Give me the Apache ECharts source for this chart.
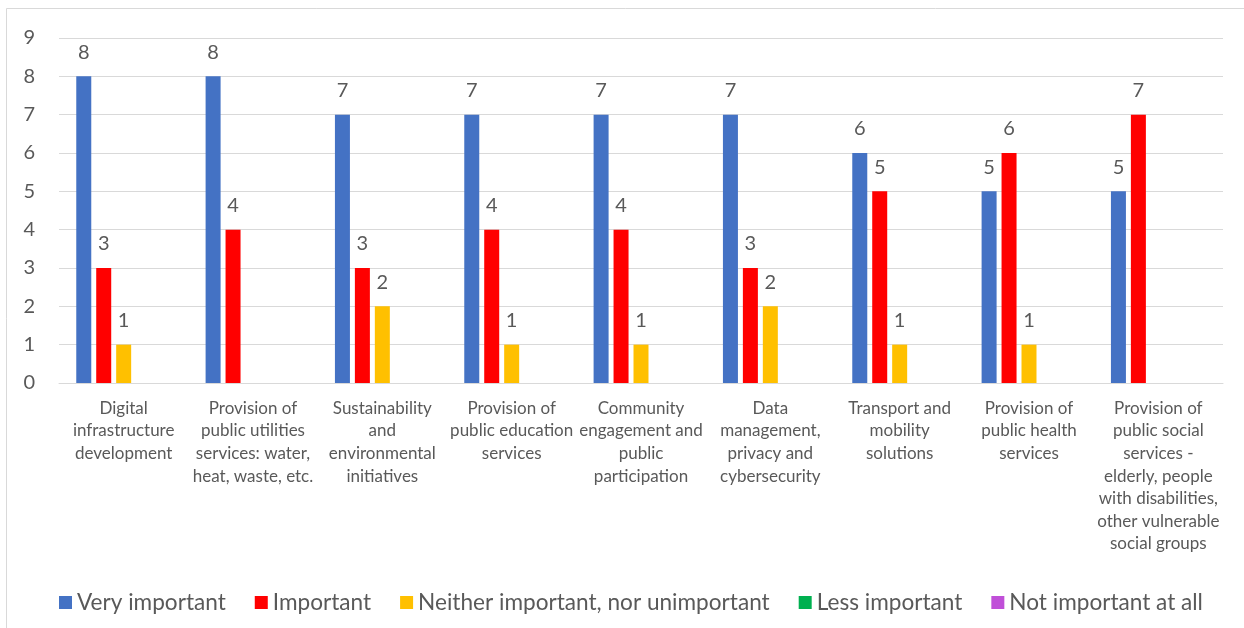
<!DOCTYPE html>
<html>
<head>
<meta charset="utf-8">
<script src="https://cdn.jsdelivr.net/npm/echarts@6/dist/echarts.min.js"></script>
<style>
  html, body { margin: 0; padding: 0; background: #ffffff; }
  #chart { width: 1244px; height: 628px; }
</style>
</head>
<body>
<div id="chart"></div>
<script>
// Survey categories (line breaks as shown under the axis)
const categories = [
  'Digital\ninfrastructure\ndevelopment',
  'Provision of\npublic utilities\nservices: water,\nheat, waste, etc.',
  'Sustainability\nand\nenvironmental\ninitiatives',
  'Provision of\npublic education\nservices',
  'Community\nengagement and\npublic\nparticipation',
  'Data\nmanagement,\nprivacy and\ncybersecurity',
  'Transport and\nmobility\nsolutions',
  'Provision of\npublic health\nservices',
  'Provision of\npublic social\nservices -\nelderly, people\nwith disabilities,\nother vulnerable\nsocial groups'
];

// Number of answers per importance level
const veryImportant   = [8, 8, 7, 7, 7, 7, 6, 5, 5];
const important       = [3, 4, 3, 4, 4, 3, 5, 6, 7];
const neither         = [1, 0, 2, 1, 1, 2, 1, 1, 0];
const lessImportant   = [0, 0, 0, 0, 0, 0, 0, 0, 0];
const notImportant    = [0, 0, 0, 0, 0, 0, 0, 0, 0];

const seriesNames = [
  'Very important',
  'Important',
  'Neither important, nor unimportant',
  'Less important',
  'Not important at all'
];
const seriesValues = [veryImportant, important, neither, lessImportant, notImportant];
const seriesColors = ['#4472C4', '#FF0000', '#FFC000', '#00B050', '#C04FD8'];

const yTicks = { min: 0, max: 9, interval: 1 };

const FONT = 'Lato, "Liberation Sans", sans-serif';
const TEXT = '#595959';
const GRID = '#D9D9D9';

const chart = echarts.init(document.getElementById('chart'), null, { renderer: 'canvas' });

chart.setOption({
  animation: false,
  backgroundColor: '#ffffff',
  textStyle: { fontFamily: FONT },
  graphic: [{
    type: 'rect',
    silent: true,
    shape: { x: 6.5, y: 8.5, width: 1400, height: 800 },
    style: { fill: 'none', stroke: GRID, lineWidth: 1 }
  }],
  grid: { left: 59, right: 21, top: 38, bottom: 245, containLabel: false },
  legend: {
    left: 54,
    top: 586,
    itemWidth: 13,
    itemHeight: 13,
    itemGap: 29,
    icon: 'rect',
    textStyle: { fontFamily: FONT, fontSize: 22.6, color: TEXT },
    data: seriesNames
  },
  xAxis: {
    type: 'category',
    data: categories,
    axisLine: { show: true, lineStyle: { color: GRID, width: 1 } },
    axisTick: { show: false },
    axisLabel: {
      interval: 0,
      margin: 14,
      color: TEXT,
      fontFamily: FONT,
      fontSize: 17,
      lineHeight: 22.6,
      align: 'center'
    }
  },
  yAxis: {
    type: 'value',
    min: yTicks.min,
    max: yTicks.max,
    interval: yTicks.interval,
    axisLine: { show: false },
    axisTick: { show: false },
    splitLine: { lineStyle: { color: GRID, width: 1 } },
    axisLabel: {
      margin: 24,
      color: TEXT,
      fontFamily: FONT,
      fontSize: 20
    }
  },
  series: seriesNames.map((name, i) => ({
    name,
    type: 'bar',
    data: seriesValues[i],
    barWidth: 15,
    barGap: '33%',
    itemStyle: { color: seriesColors[i] },
    label: {
      show: true,
      position: 'top',
      distance: 14,
      color: TEXT,
      fontFamily: FONT,
      fontSize: 20,
      formatter: p => (p.value ? String(p.value) : '')
    }
  }))
});
</script>
</body>
</html>
